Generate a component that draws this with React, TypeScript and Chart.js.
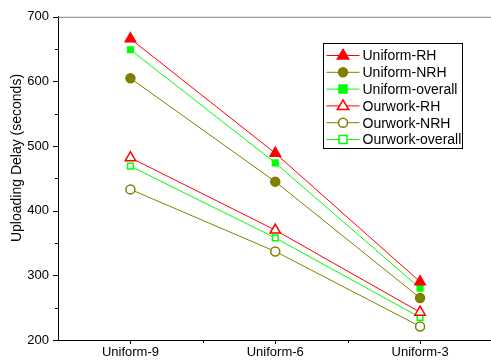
import React, { useEffect, useRef } from "react";
import { Chart, registerables } from "chart.js";

Chart.register(...registerables);

const categories = ["Uniform-9", "Uniform-6", "Uniform-3"];
const uniformRH = [666, 489, 290];
const uniformNRH = [605, 445, 265];
const uniformOverall = [649, 474, 280];
const ourworkRH = [482, 370, 243];
const ourworkNRH = [433, 337, 221];
const ourworkOverall = [469, 358, 235];
const yTickValues = [200, 300, 400, 500, 600, 700];
const yTitle = "Uploading Delay (seconds)";

const RED = "#ff0000";
const OLIVE = "#808000";
const GREEN = "#00ff00";
const FONT = "'Liberation Sans', Arial, sans-serif";

type SeriesDef = {
  label: string;
  values: number[];
  color: string;
  style: "triangle" | "circle" | "rect";
  filled: boolean;
};

const series: SeriesDef[] = [
  { label: "Uniform-RH", values: uniformRH, color: RED, style: "triangle", filled: true },
  { label: "Uniform-NRH", values: uniformNRH, color: OLIVE, style: "circle", filled: true },
  { label: "Uniform-overall", values: uniformOverall, color: GREEN, style: "rect", filled: true },
  { label: "Ourwork-RH", values: ourworkRH, color: RED, style: "triangle", filled: false },
  { label: "Ourwork-NRH", values: ourworkNRH, color: OLIVE, style: "circle", filled: false },
  { label: "Ourwork-overall", values: ourworkOverall, color: GREEN, style: "rect", filled: false },
];

const radiusFor = (s: SeriesDef) => (s.style === "triangle" ? 6 : s.style === "circle" ? 4.5 : 4);

const decorPlugin = {
  id: "decor",
  afterDraw(chart: any) {
    const { ctx, chartArea, scales } = chart;
    const xs = scales.x;
    const ys = scales.y;
    ctx.save();
    // top border
    ctx.strokeStyle = "#808080";
    ctx.lineWidth = 1;
    ctx.beginPath();
    ctx.moveTo(chartArea.left, chartArea.top + 0.5);
    ctx.lineTo(chartArea.right, chartArea.top + 0.5);
    ctx.stroke();
    // x ticks
    ctx.strokeStyle = "#000";
    for (let i = 0; i <= categories.length * 2; i++) {
      const v = i / 2;
      if (v <= 0 || v >= categories.length) continue;
      const px = Math.round(xs.getPixelForValue(v)) + 0.5;
      const major = i % 2 === 1;
      ctx.beginPath();
      ctx.moveTo(px, chartArea.bottom);
      ctx.lineTo(px, chartArea.bottom + (major ? 4 : 3));
      ctx.stroke();
    }
    // y ticks
    for (let v = ys.min; v <= ys.max; v += 50) {
      const py = Math.round(ys.getPixelForValue(v)) + 0.5;
      const major = v % 100 === 0;
      ctx.beginPath();
      ctx.moveTo(chartArea.left, py);
      ctx.lineTo(chartArea.left - (major ? 5 : 3), py);
      ctx.stroke();
    }
    // y title
    ctx.fillStyle = "#000";
    ctx.font = `14px ${FONT}`;
    ctx.textAlign = "center";
    ctx.textBaseline = "middle";
    ctx.translate(17, 158);
    ctx.rotate(-Math.PI / 2);
    ctx.fillText(yTitle, 0, 0);
    ctx.restore();

    // legend
    ctx.save();
    const boxL = 323.5, boxT = 43.5, boxW = 139, boxH = 105;
    ctx.fillStyle = "#fff";
    ctx.fillRect(boxL, boxT, boxW, boxH);
    ctx.strokeStyle = "#000";
    ctx.lineWidth = 1;
    ctx.strokeRect(boxL, boxT, boxW, boxH);
    const rowH = 16.8;
    ctx.font = `14px ${FONT}`;
    ctx.textAlign = "left";
    ctx.textBaseline = "middle";
    chart.data.datasets.forEach((ds: any, i: number) => {
      const s = series[i];
      const y = boxT + 12 + i * rowH;
      ctx.strokeStyle = s.color;
      ctx.lineWidth = 1;
      ctx.beginPath();
      ctx.moveTo(boxL + 3, y);
      ctx.lineTo(boxL + 36, y);
      ctx.stroke();
      ctx.lineWidth = 1.5;
      ctx.fillStyle = s.filled ? s.color : "#fff";
      ctx.strokeStyle = s.color;
      const cx = boxL + 19.5;
      const r = radiusFor(s);
      ctx.beginPath();
      if (s.style === "triangle") {
        ctx.moveTo(cx, y - r);
        ctx.lineTo(cx + r * 0.95, y + r * 0.6);
        ctx.lineTo(cx - r * 0.95, y + r * 0.6);
        ctx.closePath();
      } else if (s.style === "circle") {
        ctx.arc(cx, y, r, 0, Math.PI * 2);
      } else {
        ctx.rect(cx - r, y - r, r * 2, r * 2);
      }
      ctx.fill();
      ctx.stroke();
      ctx.fillStyle = "#000";
      ctx.fillText(ds.label, boxL + 39, y + 1);
    });
    ctx.restore();
  },
};

export default function App() {
  const ref = useRef<HTMLCanvasElement>(null);
  useEffect(() => {
    document.body.style.margin = "0";
    const canvas = ref.current!;
    const chart = new Chart(canvas, {
      type: "line",
      data: {
        datasets: series.map((s) => ({
          label: s.label,
          data: s.values.map((v, i) => ({ x: i + 0.5, y: v })),
          borderColor: s.color,
          backgroundColor: s.filled ? s.color : "#ffffff",
          pointBackgroundColor: s.filled ? s.color : "#ffffff",
          pointBorderColor: s.color,
          pointBorderWidth: 1.5,
          pointStyle: s.style,
          pointRadius: radiusFor(s),
          borderWidth: 1,
          tension: 0,
          fill: false,
        })),
      },
      options: {
        animation: false,
        responsive: false,
        events: [],
        layout: { padding: { top: 16, right: 6, left: 0, bottom: 0 } },
        plugins: { legend: { display: false }, tooltip: { enabled: false } },
        scales: {
          x: {
            type: "linear",
            min: 0,
            max: categories.length,
            afterFit: (s: any) => { s.height = 20; },
            afterBuildTicks: (s: any) => {
              s.ticks = categories.map((_, i) => ({ value: i + 0.5 }));
            },
            ticks: {
              autoSkip: false,
              maxRotation: 0,
              padding: 5,
              color: "#000",
              font: { family: FONT, size: 13 },
              callback: (v: any) => categories[Math.round(Number(v) - 0.5)] ?? "",
            },
            grid: { display: false, drawTicks: false },
            border: { display: true, color: "#000", width: 1 },
          },
          y: {
            min: 200,
            max: 700,
            afterFit: (s: any) => { s.width = 58; },
            afterBuildTicks: (s: any) => {
              s.ticks = yTickValues.map((v) => ({ value: v }));
            },
            ticks: {
              padding: 9,
              color: "#000",
              font: { family: FONT, size: 13 },
            },
            grid: { display: false, drawTicks: false },
            border: { display: true, color: "#000", width: 1 },
          },
        },
      },
      plugins: [decorPlugin],
    });
    return () => chart.destroy();
  }, []);
  return (
    <div style={{ position: "absolute", left: 0, top: 0, width: 491, height: 360, overflow: "hidden", background: "#fff" }}>
      <canvas ref={ref} width={500} height={360} style={{ display: "block" }} />
    </div>
  );
}
